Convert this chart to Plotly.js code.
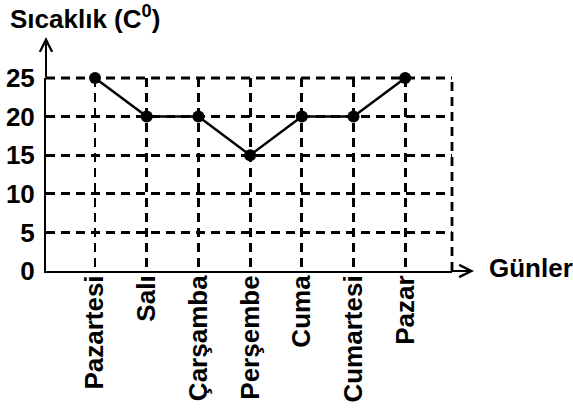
<!DOCTYPE html>
<html>
<head>
<meta charset="utf-8">
<script src="https://cdn.plot.ly/plotly-3.0.1.min.js"></script>
<style>html,body{margin:0;padding:0;background:#fff;}#chart{width:573px;height:410px;}</style>
</head>
<body>
<div id="chart"></div>
<script>
const days = ["Pazartesi", "Salı", "Çarşamba", "Perşembe", "Cuma", "Cumartesi", "Pazar"];
const temperatures = [25, 20, 20, 15, 20, 20, 25];
const yTicks = [0, 5, 10, 15, 20, 25];
const yTitle = "Sıcaklık (C<sup>0</sup>)";
const xTitle = "Günler";

const FONT = "Liberation Sans, Arial, sans-serif";
const FS = 26;
const DASH = "9px,6px";
const GW = 2.8;

const trace = {
  type: "scatter",
  mode: "lines+markers",
  x: days,
  y: temperatures,
  line: {color: "#000", width: 2.5},
  marker: {color: "#000", size: 12},
  cliponaxis: false,
  hoverinfo: "skip"
};

const layout = {
  width: 573, height: 410,
  margin: {l: 46, r: 121, t: 78, b: 139, pad: 0},
  paper_bgcolor: "#fff", plot_bgcolor: "#fff",
  showlegend: false,
  font: {family: FONT, color: "#000", size: FS, weight: 700},
  xaxis: {
    type: "category",
    categoryorder: "array",
    categoryarray: days,
    range: [-0.948, 6.905],
    showgrid: true, gridcolor: "#000", gridwidth: GW, griddash: DASH,
    showline: true, linecolor: "#000", linewidth: 2,
    zeroline: false,
    ticks: "", tickangle: -90,
    ticklabelstandoff: -8,
    tickfont: {family: FONT, size: FS, color: "#000", weight: 700},
    fixedrange: true
  },
  yaxis: {
    range: [0, 25],
    tickmode: "array", tickvals: yTicks, ticktext: yTicks.map(String),
    showgrid: true, gridcolor: "#000", gridwidth: GW, griddash: DASH,
    showline: true, linecolor: "#000", linewidth: 2,
    zeroline: false,
    ticks: "",
    ticklabelstandoff: 4,
    tickfont: {family: FONT, size: FS, color: "#000", weight: 700},
    fixedrange: true
  },
  shapes: [
    {type: "line", xref: "paper", yref: "paper", x0: 1, x1: 1, y0: 0, y1: 1,
     line: {color: "#000", width: GW, dash: DASH}},
    {type: "line", xref: "paper", yref: "paper", x0: 0, x1: 1, y0: 1, y1: 1,
     line: {color: "#000", width: GW, dash: DASH}}
  ],
  annotations: [
    {xref: "paper", yref: "paper", x: 0, y: 1.2124, ax: 0, ay: 42,
     showarrow: true, arrowhead: 5, arrowsize: 1.2, arrowwidth: 2, arrowcolor: "#000", text: ""},
    {xref: "paper", yref: "paper", x: 1.0542, y: 0, ax: -24, ay: 0,
     showarrow: true, arrowhead: 5, arrowsize: 1.2, arrowwidth: 2, arrowcolor: "#000", text: ""},
    {xref: "paper", yref: "paper", x: -0.0936, y: 1.316, xanchor: "left", yanchor: "middle",
     showarrow: false, text: yTitle, font: {family: FONT, size: FS, color: "#000", weight: 700}},
    {xref: "paper", yref: "paper", x: 1.086, y: 0.0155, xanchor: "left", yanchor: "middle",
     showarrow: false, text: xTitle, font: {family: FONT, size: FS, color: "#000", weight: 700}}
  ]
};

Plotly.newPlot("chart", [trace], layout, {displayModeBar: false, staticPlot: true});
</script>
</body>
</html>
